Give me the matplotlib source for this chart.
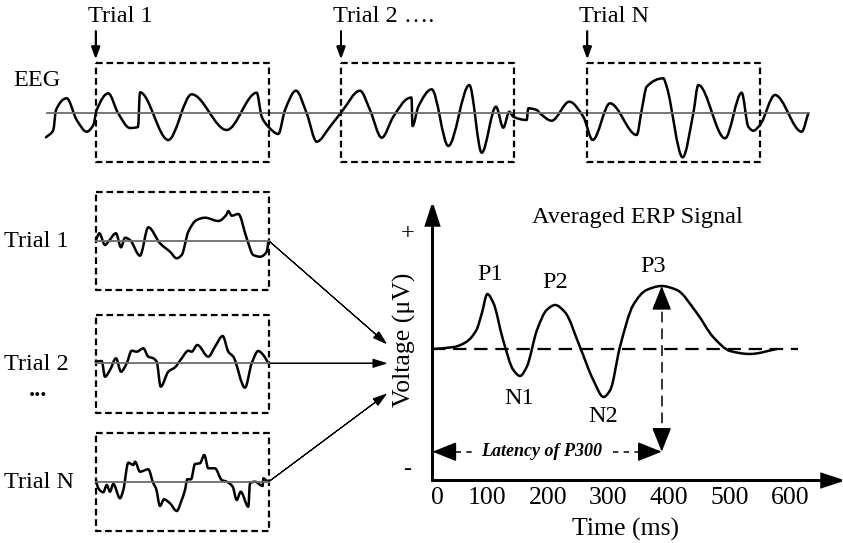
import numpy as np
import matplotlib
matplotlib.use("Agg")
import matplotlib.pyplot as plt
from matplotlib.path import Path
from matplotlib.patches import PathPatch

plt.rcParams['font.family'] = ['Liberation Serif', 'DejaVu Serif']

W, H = 843, 543

# raw EEG trace: x position (px) and amplitude above baseline (px)
eeg_x = [46, 53.3, 56, 66.7, 76.7, 86.7, 93.3, 96.7, 108.3, 118, 130, 138, 140, 168.3,
         191.7, 226.7, 256.7, 261.7, 268.3, 278.3, 285, 296, 306.7, 316.7, 330, 341.7,
         360, 370, 381.7, 393.3, 408.3, 411.5, 412.5, 418.3, 431.7, 448.3, 469.3, 481.7,
         496, 503.3, 509.3, 513.3, 526.7, 528.3, 536.7, 540, 551.7, 569.3, 583.3, 592.7,
         610, 636.7, 641.7, 646.7, 663.3, 666.7, 682.7, 693.3, 698.3, 725, 741.7, 748.3,
         753.3, 760, 775, 801.7, 808.3]
eeg_amp = [-24.3, -17, 3, 14.7, -7, -18.7, -12, 3, 19.7, 0, -15, -14, 20.7, -27,
           18.7, -17, 20.3, -3.7, -13.7, -21, 3, 22.3, -0.3, -28.7, -13.7, 1.3,
           22.3, 3, -24.7, -3.7, 14.7, 15.5, -13, 6.3, 23.7, -33, 28, -39.7,
           6.3, -14.7, 1.3, -3.7, -7, 4.7, 3, -0.3, -7.7, 11.3, -3.7, -27,
           9.7, -22, 3, 26.3, 34.7, 26.3, -44.3, -0.3, 28, -25.3, 20.3, -13.7,
           -17.7, -12, 18, -18.7, -0.3]

# single trials: x from box left (px), amplitude above baseline (px)
trial1_x = [0.3, 3.6, 9.3, 12.6, 20.3, 25.3, 29.3, 34.3, 44.3, 52.6, 64.3, 74.3, 81, 86,
            92.6, 101, 109.3, 122.6, 131, 132.6, 136, 142.6, 151, 157.6, 164.3, 171, 172.6]
trial1_amp = [0.7, 7.4, -4.3, -1, 7.4, -6.6, 3, 0.7, -15, 13.4, -2.6, -11, -17.6, -14.3,
              9, 20.7, 23, 19.7, 26.4, 29.7, 25, 26.7, 2.4, -14.3, -16, -11, -1]
trial2_x = [0, 6, 9.3, 14.3, 20.3, 25.3, 31, 36, 41, 47.6, 52.6, 57.6, 61, 65, 72.6, 79.3,
            86, 92.6, 96, 101.6, 112.6, 119.3, 127, 132.6, 137.6, 149.3, 156, 162.6, 167.6, 172.6]
trial2_amp = [1.6, 2.3, -13.4, -6.7, 5, -8.4, 0, 12.6, 11.6, 15, 6.6, 5, 1.6, -23.4, -8.4, -4,
              5, 12.6, 11.6, 18.3, 6.6, 16.6, 27.3, 11.6, 6.6, -24.4, 0, 12.3, 8.3, 0]
trialN_x = [0.3, 2.6, 7.6, 11, 14.3, 17.6, 24.3, 27.6, 32.6, 37.6, 39.3, 44.3, 52.6, 57.6,
            60.3, 64.3, 68.3, 74.3, 81, 86, 89.3, 91.6, 95.3, 99.3, 104.3, 108.6, 112.6,
            119.3, 126, 131, 137, 141, 145, 152.6, 154.3, 159.3, 167, 167.6, 171]
trialN_amp = [1.7, -6.6, -10.6, -3.3, -10, -2.3, -16.6, -8.3, 19, 16.7, 20, 10, 12.4, -1.6,
              -6.6, -24.3, -17.6, -21.6, -29.3, -18.3, -8.3, 2.4, 2.4, 17.7, 18.4, 26.7, 13.4,
              13.4, 1.7, 0, -5, -18.3, -10, -25, -1.6, 0, -4.3, 3.4, 1]

# averaged ERP
erp_t = [10, 45, 65, 82, 91, 100, 110, 126, 143, 154, 165, 182, 198, 212, 228, 253, 275,
         292, 303, 319, 341, 363, 388, 413, 446, 473, 501, 534, 578]
erp_v = [0, 0.2, 0.7, 1.9, 3.6, 5.5, 4.6, 0.9, -2.1, -2.7, -1.8, 1.9, 3.9, 4.4, 3.7, 0.2,
         -3.1, -4.8, -4.1, 0.2, 4.4, 5.9, 6.3, 5.9, 3.6, 1.2, -0.2, -0.5, 0]
time_ticks = [100, 200, 300, 400, 500, 600]
p3_latency = 388
p3_amp = 6.3


def smooth_trace(axis, x, y, **kw):
    # cubic bezier through the read points (monotone tangents, flat at extremes)
    x = np.asarray(x, float)
    y = np.asarray(y, float)
    h = np.diff(x)
    d = np.diff(y) / h
    m = np.zeros_like(x)
    m[0], m[-1] = d[0], d[-1]
    for k in range(1, len(x) - 1):
        if d[k - 1] * d[k] > 0:
            w1 = 2 * h[k] + h[k - 1]
            w2 = h[k] + 2 * h[k - 1]
            m[k] = (w1 + w2) / (w1 / d[k - 1] + w2 / d[k])
    verts = [(x[0], y[0])]
    codes = [Path.MOVETO]
    for k in range(len(x) - 1):
        verts += [(x[k] + h[k] / 3, y[k] + m[k] * h[k] / 3),
                  (x[k + 1] - h[k] / 3, y[k + 1] - m[k + 1] * h[k] / 3),
                  (x[k + 1], y[k + 1])]
        codes += [Path.CURVE4] * 3
    axis.add_patch(PathPatch(Path(verts, codes), facecolor='none', capstyle='round',
                             joinstyle='round', **kw))


fig = plt.figure(figsize=(W / 100, H / 100), dpi=100)
ax = fig.add_axes([0, 0, 1, 1])
ax.set_xlim(0, W)
ax.set_ylim(H, 0)
ax.axis('off')

FS = 17.5
dash_box = dict(color='black', lw=1.6, ls=(0, (3, 1.7)))
wave = dict(edgecolor='black', lw=1.8)

# ---- top EEG strip
base = 113
ax.plot([47, 809], [base, base], color='#6b6b6b', lw=1.3)
smooth_trace(ax, eeg_x, base - np.array(eeg_amp), **wave)
ax.text(13, 81, 'EEG', fontsize=FS, va='center')
for x0, lab in [(95.7, 'Trial 1'), (341, 'Trial 2 \u2026.'), (587.3, 'Trial N')]:
    ax.plot([x0, x0 + 173, x0 + 173, x0, x0], [63, 63, 162, 162, 63], **dash_box)
    ax.arrow(x0, 31, 0, 26, length_includes_head=True, head_width=8, head_length=11,
             color='black', lw=1.2)
    ax.text(x0 - 8, 16, lab, fontsize=FS, va='center')

# ---- single trial boxes
bx = 95.7
trials = [(trial1_x, trial1_amp, 191.7, 240.7, 'Trial 1'),
          (trial2_x, trial2_amp, 315, 363.3, 'Trial 2'),
          (trialN_x, trialN_amp, 432.7, 481.7, 'Trial N')]
tips = [(386, 343.3), (386, 363.3), (386, 394.3)]
for (tx, ta, top, yb, lab), tip in zip(trials, tips):
    ax.plot([bx, bx + 173, bx + 173, bx, bx], [top, top, top + 98, top + 98, top], **dash_box)
    ax.plot([bx, bx + 173], [yb, yb], color='#6b6b6b', lw=1.3)
    smooth_trace(ax, bx + np.array(tx), yb - np.array(ta), **wave)
    ax.text(4, yb + 1, lab, fontsize=FS, va='center')
    ax.arrow(bx + 173, yb, tip[0] - bx - 173, tip[1] - yb, length_includes_head=True,
             head_width=8, head_length=13, color='black', lw=0.8)
ax.text(38, 391, '...', fontsize=FS, ha='center', va='center', fontweight='bold')

# ---- ERP axes
ax.arrow(432.5, 480.5, 0, -275, length_includes_head=True, head_width=13, head_length=20,
         color='black', lw=1.8)
ax.arrow(432.5, 480.5, 409, 0, length_includes_head=True, head_width=13, head_length=20,
         color='black', lw=1.8)

erp = fig.add_axes([432.5 / W, (H - 480.5) / H, (W - 432.5) / W, 280.5 / H])
erp.patch.set_alpha(0)
scale = 0.6054  # px per ms
t_left = (432.5 - 426.8) / scale
erp.set_xlim(t_left, t_left + (W - 432.5) / scale)
erp.set_ylim(-13.15, 14.9)
for s in erp.spines.values():
    s.set_visible(False)
erp.set_yticks([])
erp.set_xticks(time_ticks)
erp.set_xticklabels([str(t) for t in time_ticks])
erp.tick_params(axis='x', length=0, pad=5, labelsize=18.5)
erp.text(18, -13.15, '0', fontsize=18.5, ha='center', va='top',
         transform=erp.transData + matplotlib.transforms.ScaledTranslation(0, -5 / 72, fig.dpi_scale_trans))

erp.plot([t_left, 613], [0, 0], color='black', lw=1.6, ls=(0, (6, 3.5)))
smooth_trace(erp, erp_t, erp_v, **wave)

lat_v = -10.27
erp.plot([p3_latency, p3_latency], [lat_v + 1.2, p3_amp - 1.2], color='black', lw=1.1,
         ls=(0, (7, 4)))
for t0, t1 in [(t_left + 20, 80), (307, p3_latency - 20)]:
    erp.plot([t0, t1], [lat_v, lat_v], color='black', lw=1.1, ls=(0, (3.5, 3.5)))
head = dict(arrowstyle='-|>,head_length=0.75,head_width=0.3', color='black',
            lw=1.1, shrinkA=0, shrinkB=0, mutation_scale=20)
erp.annotate('', xy=(p3_latency, p3_amp), xytext=(p3_latency, p3_amp - 1.6), arrowprops=head)
erp.annotate('', xy=(p3_latency, lat_v), xytext=(p3_latency, lat_v + 1.6), arrowprops=head)
erp.annotate('', xy=(t_left, lat_v), xytext=(t_left + 25, lat_v), arrowprops=head)
erp.annotate('', xy=(p3_latency, lat_v), xytext=(p3_latency - 25, lat_v), arrowprops=head)

# labels on the ERP panel (canvas pixel coords)
ax.text(542, 452, 'Latency of P300', fontsize=13, fontweight='bold', fontstyle='italic',
        ha='center', va='center')
ax.text(637, 218, 'Averaged ERP Signal', fontsize=FS, ha='center', va='center')
for lab, x, y in [('P1', 490, 274), ('P2', 555, 282), ('P3', 653, 267),
                  ('N1', 519, 399), ('N2', 603, 416)]:
    ax.text(x, y, lab, fontsize=FS, ha='center', va='center')
ax.text(408, 234, '+', fontsize=FS, ha='center', va='center')
ax.text(407, 470, '-', fontsize=FS, ha='center', va='center')
ax.text(404, 340, 'Voltage (\u03bcV)', fontsize=18.5, rotation=90, ha='center', va='center')
ax.text(625, 529, 'Time (ms)', fontsize=18.5, ha='center', va='center')

fig.savefig('out.png', dpi=100)
